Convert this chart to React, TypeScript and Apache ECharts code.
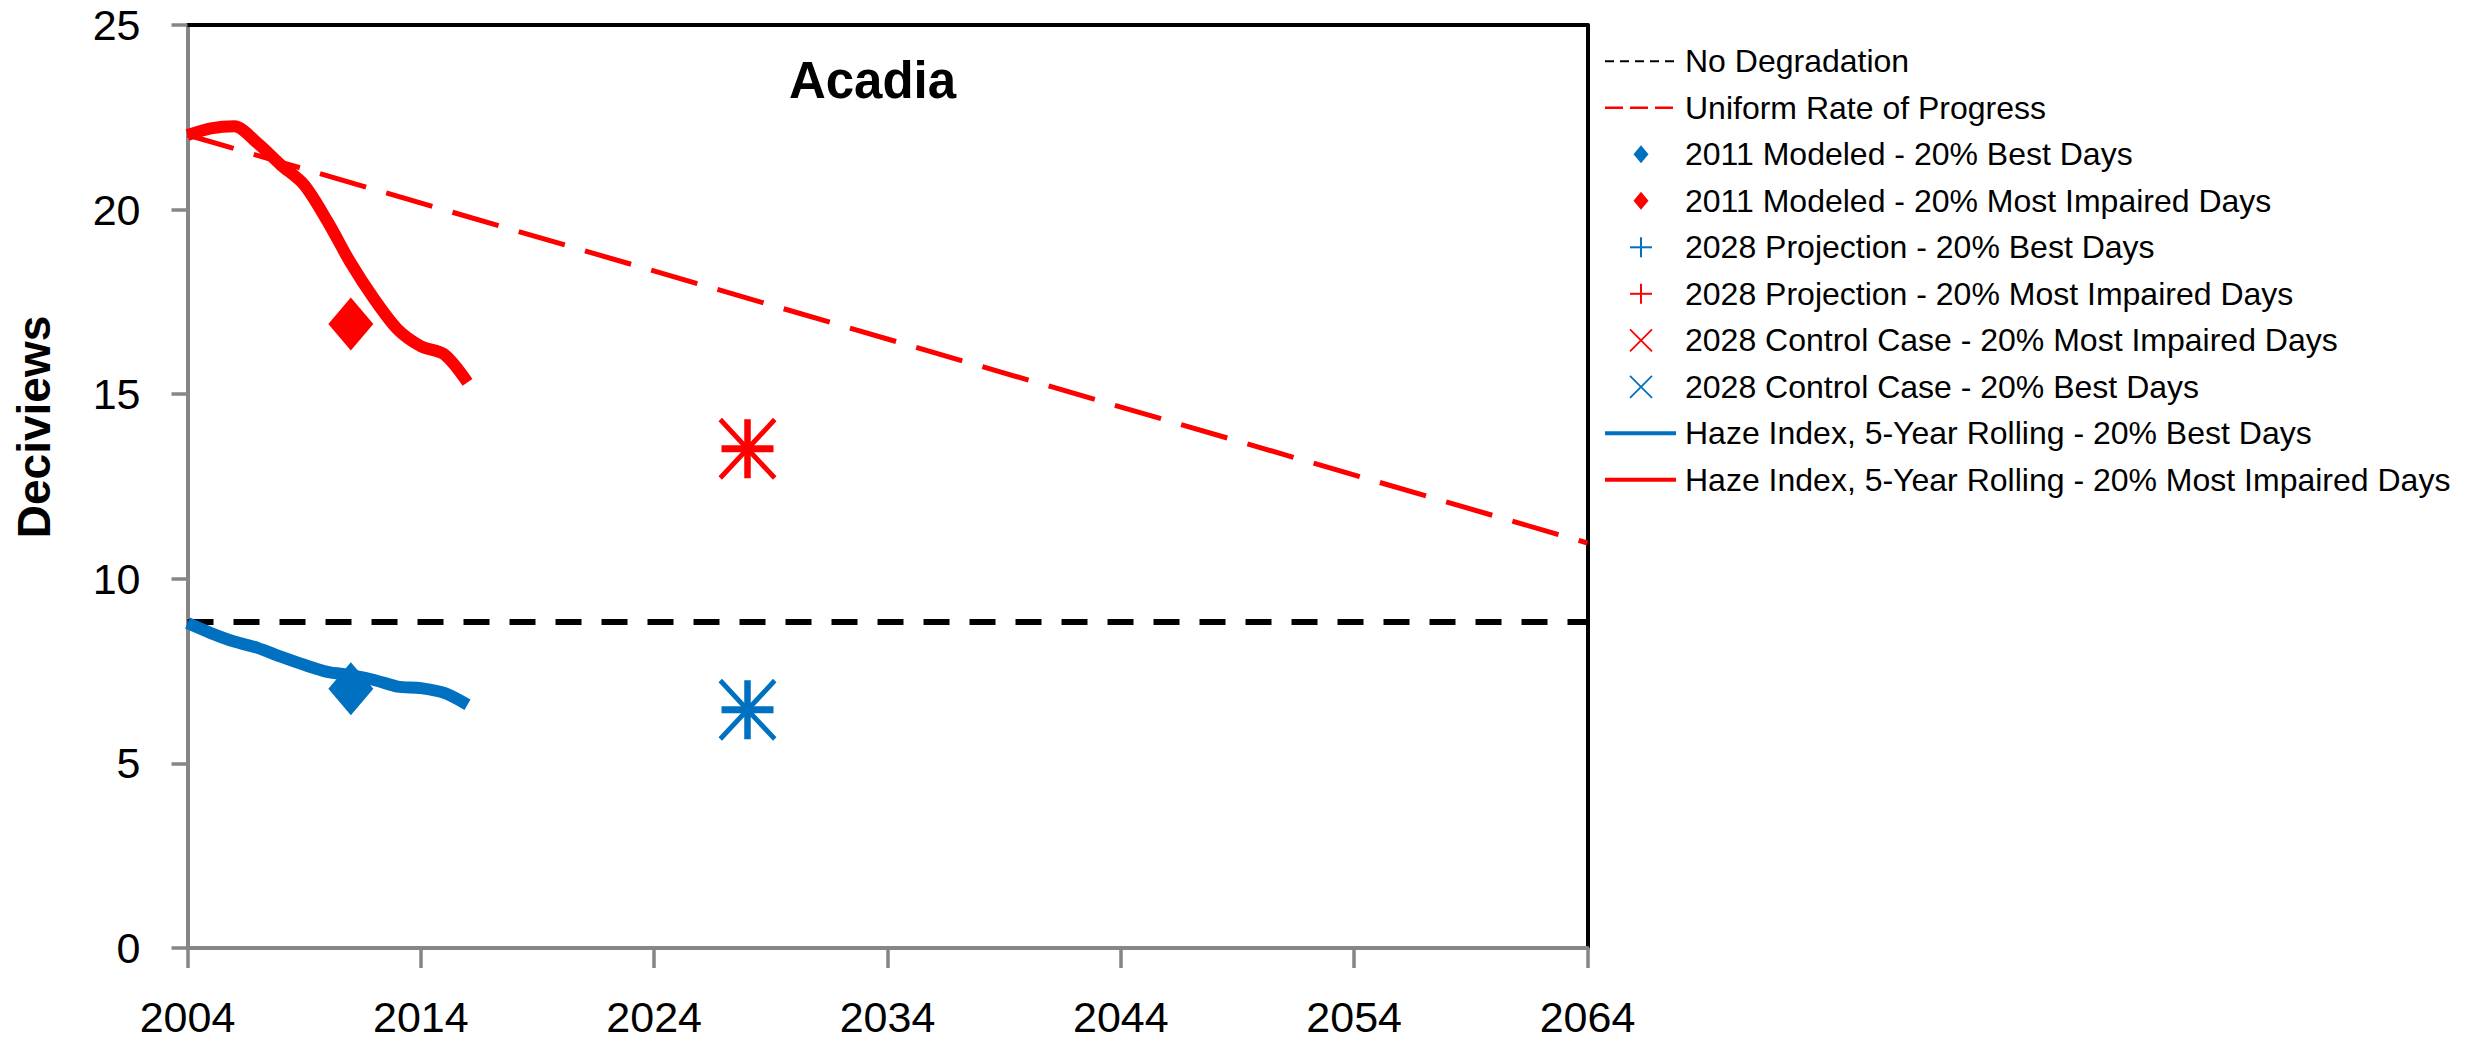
import { useEffect, useRef } from "react";
import * as echarts from "echarts";

// ---------- data ----------
const hazeYears = [2004, 2005, 2006, 2007, 2008, 2009, 2010, 2011, 2012, 2013, 2014, 2015, 2016];
const hazeMostImpaired = [22.02, 22.2, 22.26, 21.8, 21.21, 20.67, 19.68, 18.55, 17.58, 16.76, 16.3, 16.08, 15.32];
const hazeBest = [8.8, 8.53, 8.3, 8.13, 7.89, 7.67, 7.48, 7.39, 7.26, 7.08, 7.04, 6.91, 6.59];

const lineYears = [2004, 2064];
const noDegradation = [8.83, 8.83];
const uniformRate = [22.02, 10.97];

const modeledYear = 2011;
const modeledBest = 7.02;
const modeledMostImpaired = 16.9;

const projectionYear = 2028;
const projectionBest = 6.45;
const projectionMostImpaired = 13.52;
const controlBest = 6.45;
const controlMostImpaired = 13.52;

const xStartYear = 2004;
const xEndYear = 2064;
const xStep = 10;
const yMin = 0;
const yMax = 25;
const yStep = 5;

const legendNames = [
  "No Degradation",
  "Uniform Rate of Progress",
  "2011 Modeled - 20% Best Days",
  "2011 Modeled - 20% Most Impaired Days",
  "2028 Projection - 20% Best Days",
  "2028 Projection - 20% Most Impaired Days",
  "2028 Control Case - 20% Most Impaired Days",
  "2028 Control Case - 20% Best Days",
  "Haze Index, 5-Year Rolling - 20% Best Days",
  "Haze Index, 5-Year Rolling - 20% Most Impaired Days",
];

const titleText = "Acadia";
const yTitle = "Deciviews";

// ---------- styling ----------
const RED = "#FF0000";
const BLUE = "#0070C0";
const GREY = "#868686";
const FONT = '"Liberation Sans", Arial, sans-serif';

const PLUS_PATH =
  "path://M22.75,0 H29.25 V26 H52 V33 H29.25 V59 H22.75 V33 H0 V26 H22.75 Z";
const X_PATH =
  "path://M0,3.5 L3.5,0 L58,58.5 L54.5,62 Z M58,3.5 L54.5,0 L0,58.5 L3.5,62 Z";

const toX = (yr: number) => yr - xStartYear;

function buildLegend() {
  const els: any[] = [];
  const x1 = 1605;
  const x2 = 1676;
  const cx = 1641;
  const textX = 1685;
  const top = 61.3;
  const step = 46.5;
  const yAt = (i: number) => top + i * step;

  const dashLine = (i: number, color: string, w: number, dash: number[] | null) => {
    els.push({
      type: "line",
      shape: { x1, y1: yAt(i), x2, y2: yAt(i) },
      style: { stroke: color, lineWidth: w, lineDash: dash || undefined },
    });
  };
  const diamond = (i: number, color: string) => {
    const y = yAt(i);
    els.push({
      type: "polygon",
      shape: {
        points: [
          [cx, y - 9],
          [cx + 7.5, y],
          [cx, y + 9],
          [cx - 7.5, y],
        ],
      },
      style: { fill: color },
    });
  };
  const plus = (i: number, color: string) => {
    const y = yAt(i);
    els.push({ type: "line", shape: { x1: cx - 11, y1: y, x2: cx + 11, y2: y }, style: { stroke: color, lineWidth: 2 } });
    els.push({ type: "line", shape: { x1: cx, y1: y - 10, x2: cx, y2: y + 10 }, style: { stroke: color, lineWidth: 2 } });
  };
  const cross = (i: number, color: string) => {
    const y = yAt(i);
    els.push({ type: "line", shape: { x1: cx - 11, y1: y - 11, x2: cx + 11, y2: y + 11 }, style: { stroke: color, lineWidth: 1.8 } });
    els.push({ type: "line", shape: { x1: cx + 11, y1: y - 11, x2: cx - 11, y2: y + 11 }, style: { stroke: color, lineWidth: 1.8 } });
  };

  dashLine(0, "#000", 2, [9, 6]);
  dashLine(1, RED, 2.5, [18, 7]);
  diamond(2, BLUE);
  diamond(3, RED);
  plus(4, BLUE);
  plus(5, RED);
  cross(6, RED);
  cross(7, BLUE);
  dashLine(8, BLUE, 4, null);
  dashLine(9, RED, 4, null);

  legendNames.forEach((name, i) => {
    els.push({
      type: "text",
      x: textX,
      y: yAt(i),
      style: {
        text: name,
        x: 0,
        y: 0,
        fill: "#000",
        font: `32px ${FONT}`,
        align: "left",
        verticalAlign: "middle",
      },
    });
  });
  return els;
}

export default function App() {
  const ref = useRef<HTMLDivElement>(null);

  useEffect(() => {
    document.body.style.margin = "0";
    if (!ref.current) return;
    const chart = echarts.init(ref.current, null, { renderer: "svg" });

    const scatterStyle = (color: string) => ({ color, opacity: 1 });

    const option: any = {
      animation: false,
      backgroundColor: "#ffffff",
      textStyle: { fontFamily: FONT },
      grid: { left: 187.5, top: 25, right: 901.5, bottom: 91, containLabel: false },
      xAxis: [
        {
          type: "value",
          position: "bottom",
          min: 0,
          max: toX(xEndYear),
          interval: xStep,
          axisLine: { show: true, onZero: false, lineStyle: { color: GREY, width: 4 } },
          axisTick: { show: true, length: 20, lineStyle: { color: GREY, width: 3.5 } },
          axisLabel: {
            show: true,
            formatter: (v: number) => String(v + xStartYear),
            fontSize: 43,
            color: "#000",
            fontFamily: FONT,
            margin: 47,
            showMinLabel: true,
            showMaxLabel: true,
          },
          splitLine: { show: false },
        },
        {
          type: "value",
          position: "top",
          min: 0,
          max: toX(xEndYear),
          interval: xStep,
          axisLine: { show: true, onZero: false, lineStyle: { color: "#000", width: 4 } },
          axisTick: { show: false },
          axisLabel: { show: false },
          splitLine: { show: false },
        },
      ],
      yAxis: [
        {
          type: "value",
          position: "left",
          min: yMin,
          max: yMax,
          interval: yStep,
          axisLine: { show: true, onZero: false, lineStyle: { color: GREY, width: 4 } },
          axisTick: { show: true, length: 16, lineStyle: { color: GREY, width: 3.5 } },
          axisLabel: { fontSize: 43, color: "#000", fontFamily: FONT, margin: 47 },
          splitLine: { show: false },
        },
        {
          type: "value",
          position: "right",
          min: yMin,
          max: yMax,
          interval: yStep,
          axisLine: { show: true, onZero: false, lineStyle: { color: "#000", width: 4 } },
          axisTick: { show: false },
          axisLabel: { show: false },
          splitLine: { show: false },
        },
      ],
      series: [
        {
          name: legendNames[0],
          type: "line",
          data: lineYears.map((y, i) => [toX(y), noDegradation[i]]),
          symbol: "none",
          lineStyle: { color: "#000", width: 6, type: [26, 20] },
          itemStyle: { color: "#000" },
        },
        {
          name: legendNames[1],
          type: "line",
          data: lineYears.map((y, i) => [toX(y), uniformRate[i]]),
          symbol: "none",
          lineStyle: { color: RED, width: 5, type: [48, 21] },
          itemStyle: { color: RED },
        },
        {
          name: legendNames[2],
          type: "scatter",
          data: [[toX(modeledYear), modeledBest]],
          symbol: "diamond",
          symbolSize: [45, 53],
          itemStyle: scatterStyle(BLUE),
        },
        {
          name: legendNames[3],
          type: "scatter",
          data: [[toX(modeledYear), modeledMostImpaired]],
          symbol: "diamond",
          symbolSize: [45, 53],
          itemStyle: scatterStyle(RED),
        },
        {
          name: legendNames[4],
          type: "scatter",
          data: [[toX(projectionYear), projectionBest]],
          symbol: PLUS_PATH,
          symbolSize: [52, 59],
          symbolKeepAspect: false,
          itemStyle: scatterStyle(BLUE),
        },
        {
          name: legendNames[5],
          type: "scatter",
          data: [[toX(projectionYear), projectionMostImpaired]],
          symbol: PLUS_PATH,
          symbolSize: [52, 59],
          symbolKeepAspect: false,
          itemStyle: scatterStyle(RED),
        },
        {
          name: legendNames[6],
          type: "scatter",
          data: [[toX(projectionYear), controlMostImpaired]],
          symbol: X_PATH,
          symbolSize: [58, 62],
          symbolKeepAspect: false,
          itemStyle: scatterStyle(RED),
        },
        {
          name: legendNames[7],
          type: "scatter",
          data: [[toX(projectionYear), controlBest]],
          symbol: X_PATH,
          symbolSize: [58, 62],
          symbolKeepAspect: false,
          itemStyle: scatterStyle(BLUE),
        },
        {
          name: legendNames[8],
          type: "line",
          data: hazeYears.map((y, i) => [toX(y), hazeBest[i]]),
          symbol: "none",
          smooth: 0.3,
          lineStyle: { color: BLUE, width: 12, cap: "butt" },
          itemStyle: { color: BLUE },
        },
        {
          name: legendNames[9],
          type: "line",
          data: hazeYears.map((y, i) => [toX(y), hazeMostImpaired[i]]),
          symbol: "none",
          smooth: 0.3,
          lineStyle: { color: RED, width: 12, cap: "butt" },
          itemStyle: { color: RED },
        },
      ],
      graphic: [
        {
          type: "text",
          x: 872.5,
          y: 80,
          style: {
            text: titleText,
            x: 0,
            y: 0,
            fill: "#000",
            font: `bold 51px ${FONT}`,
            align: "center",
            verticalAlign: "middle",
          },
        },
        {
          type: "text",
          x: 33.5,
          y: 427,
          rotation: Math.PI / 2,
          style: {
            text: yTitle,
            x: 0,
            y: 0,
            fill: "#000",
            font: `bold 46px ${FONT}`,
            align: "center",
            verticalAlign: "middle",
          },
        },
        ...buildLegend(),
      ],
    };

    chart.setOption(option);
    return () => {
      chart.dispose();
    };
  }, []);

  return <div ref={ref} style={{ width: 2489, height: 1039 }} />;
}
